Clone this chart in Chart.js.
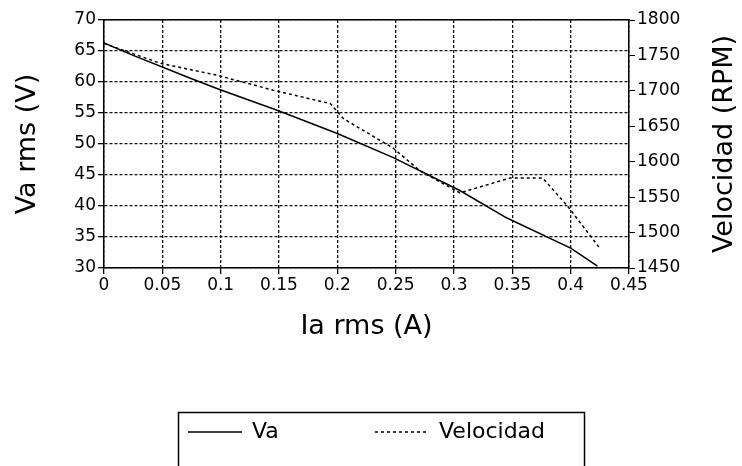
<!DOCTYPE html>
<html>
<head>
<meta charset="utf-8">
<script src="https://cdn.jsdelivr.net/npm/chart.js@4.4.0/dist/chart.umd.min.js"></script>
<style>
  html, body { margin: 0; padding: 0; background: #fff; }
  canvas { display: block; }
</style>
</head>
<body>
<canvas id="chart" width="742" height="466"></canvas>
<script>
// Va (V) vs Ia (A)
const iaVa  = [0, 0.025, 0.074, 0.099, 0.149, 0.2, 0.248, 0.305, 0.345, 0.4, 0.423];
const vaRms = [66.3, 64.3, 60.6, 58.8, 55.4, 51.7, 47.8, 42.5, 38.1, 33.2, 30.3];

// Velocidad (RPM) vs Ia (A)
const iaVel  = [0, 0.048, 0.097, 0.145, 0.194, 0.205, 0.248, 0.271, 0.305, 0.348, 0.376, 0.397, 0.425];
const velRpm = [1767, 1739, 1722, 1701, 1682, 1661, 1619, 1587, 1556, 1577, 1577, 1538, 1478];

// axis ranges / steps
const xRange = [0, 0.45], xStep = 0.05;
const vaRange = [30, 70], vaStep = 5;
const rpmRange = [1450, 1800], rpmStep = 50;

const FONT = 'DejaVu Sans';
Chart.defaults.font.family = FONT;
Chart.defaults.color = '#000';

const pts = (xs, ys) => xs.map((x, i) => ({ x: x, y: ys[i] }));

// right axis title reads bottom-to-top, like the left one
const rightTitle = {
    id: 'rightTitle',
    afterDraw(chart) {
        const s = chart.scales.y1;
        const ctx = chart.ctx;
        ctx.save();
        ctx.translate(s.right - 17, (chart.chartArea.top + chart.chartArea.bottom) / 2);
        ctx.rotate(-Math.PI / 2);
        ctx.font = '27px "' + FONT + '"';
        ctx.fillStyle = '#000';
        ctx.textAlign = 'center';
        ctx.textBaseline = 'middle';
        ctx.fillText('Velocidad (RPM)', 0, 0);
        ctx.restore();
    }
};

// boxed legend under the chart
const boxLegend = {
    id: 'boxLegend',
    afterDraw(chart) {
        const ctx = chart.ctx;
        const itemX = [188, 375];
        const y = 432;
        ctx.save();
        ctx.strokeStyle = '#000';
        ctx.lineWidth = 1.5;
        ctx.strokeRect(178.5, 412.5, 406, 80);
        ctx.font = '22px "' + FONT + '"';
        ctx.fillStyle = '#000';
        ctx.textBaseline = 'middle';
        chart.data.datasets.forEach((ds, i) => {
            const x0 = itemX[i];
            ctx.beginPath();
            ctx.setLineDash(ds.borderDash || []);
            ctx.lineWidth = ds.borderWidth;
            ctx.moveTo(x0, y);
            ctx.lineTo(x0 + 54, y);
            ctx.stroke();
            ctx.setLineDash([]);
            ctx.fillText(ds.label, x0 + 64, y);
        });
        ctx.restore();
    }
};

const config = {
    type: 'line',
    data: {
        datasets: [{
            label: 'Va',
            data: pts(iaVa, vaRms),
            yAxisID: 'y',
            borderColor: '#000',
            borderWidth: 1.5,
            pointRadius: 0,
            tension: 0,
            fill: false
        }, {
            label: 'Velocidad',
            data: pts(iaVel, velRpm),
            yAxisID: 'y1',
            borderColor: '#000',
            borderWidth: 1.5,
            borderDash: [3, 3],
            pointRadius: 0,
            tension: 0,
            fill: false
        }]
    },
    options: {
        responsive: false,
        animation: false,
        layout: { padding: { top: 20, left: 0, right: 0, bottom: 119 } },
        plugins: { legend: { display: false }, tooltip: { enabled: false } },
        scales: {
            x: {
                type: 'linear',
                position: 'bottom',
                min: xRange[0], max: xRange[1],
                ticks: {
                    stepSize: xStep, autoSkip: false, maxRotation: 0, padding: 1,
                    font: { size: 17 },
                    callback: v => String(+v.toFixed(2))
                },
                grid: { color: '#111', lineWidth: 1.3, tickLength: 6, tickColor: '#000' },
                border: { color: '#000', width: 1.5, dash: [3, 2] },
                title: { display: true, text: 'Ia rms (A)', font: { size: 27 }, padding: { top: 4, bottom: 4 } },
                afterFit: s => { s.height = 79; }
            },
            xTop: {
                type: 'linear',
                position: 'top',
                min: xRange[0], max: xRange[1],
                ticks: { display: false },
                grid: { drawOnChartArea: false, drawTicks: false },
                border: { color: '#000', width: 1.5 },
                afterFit: s => { s.height = 0; }
            },
            y: {
                position: 'left',
                min: vaRange[0], max: vaRange[1],
                ticks: { stepSize: vaStep, font: { size: 17 }, padding: 2, callback: v => String(v) },
                grid: { color: '#111', lineWidth: 1.3, tickLength: 6, tickColor: '#000' },
                border: { color: '#000', width: 1.5, dash: [3, 2] },
                title: { display: true, text: 'Va rms (V)', font: { size: 27 }, padding: { top: 12, bottom: 0 } },
                afterFit: s => { s.width = 104; }
            },
            y1: {
                position: 'right',
                min: rpmRange[0], max: rpmRange[1],
                ticks: { stepSize: rpmStep, font: { size: 17 }, padding: 2, callback: v => String(v) },
                grid: { drawOnChartArea: false, tickLength: 6, tickColor: '#000' },
                border: { color: '#000', width: 1.5 },
                afterFit: s => { s.width = 113; }
            }
        }
    },
    plugins: [rightTitle, boxLegend]
};

new Chart(document.getElementById('chart'), config);
</script>
</body>
</html>
